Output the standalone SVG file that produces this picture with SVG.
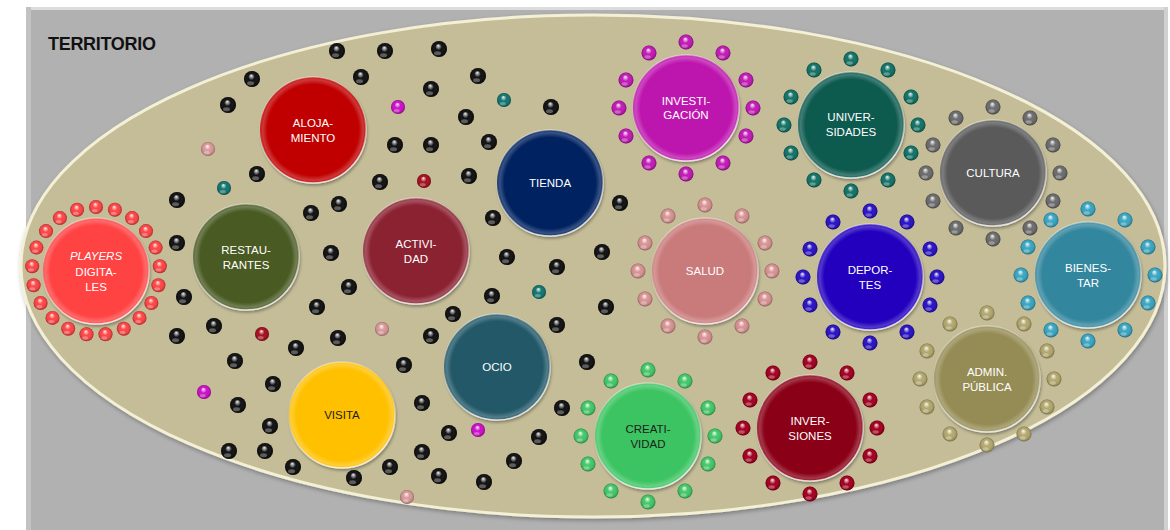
<svg xmlns="http://www.w3.org/2000/svg" xmlns:xlink="http://www.w3.org/1999/xlink" width="1170" height="530" viewBox="0 0 1170 530">
<defs>
<style>
.lbl{font-family:"Liberation Sans",Arial,sans-serif;font-size:11.5px;fill:#ffffff;text-anchor:middle}
.lbl.dk{fill:#1c1c1c}
.title{font-family:"Liberation Sans",Arial,sans-serif;font-size:18px;font-weight:bold;fill:#111}
.big{stroke:url(#rimStroke);stroke-width:1.6;filter:url(#sh)}
</style>
<radialGradient id="gloss" cx="0.5" cy="0.5" r="0.5" fx="0.45" fy="0.28">
<stop offset="0" stop-color="#fff" stop-opacity="0.95"/>
<stop offset="0.18" stop-color="#fff" stop-opacity="0.55"/>
<stop offset="0.42" stop-color="#fff" stop-opacity="0"/>
<stop offset="0.85" stop-color="#000" stop-opacity="0.12"/>
<stop offset="1" stop-color="#000" stop-opacity="0.35"/>
</radialGradient>
<radialGradient id="bigOv" cx="0.5" cy="0.5" r="0.5">
<stop offset="0" stop-color="#fff" stop-opacity="0"/>
<stop offset="0.86" stop-color="#fff" stop-opacity="0"/>
<stop offset="0.95" stop-color="#fff" stop-opacity="0.22"/>
<stop offset="1" stop-color="#fff" stop-opacity="0.08"/>
</radialGradient>
<linearGradient id="rimStroke" x1="0" y1="0" x2="0.3" y2="1">
<stop offset="0" stop-color="#fff" stop-opacity="0.55"/>
<stop offset="0.45" stop-color="#fff" stop-opacity="0.05"/>
<stop offset="1" stop-color="#fff" stop-opacity="0.75"/>
</linearGradient>
<filter id="sh" x="-20%" y="-20%" width="140%" height="140%">
<feDropShadow dx="1" dy="2" stdDeviation="1.5" flood-color="#000" flood-opacity="0.35"/>
</filter>
<filter id="esh" x="-5%" y="-5%" width="110%" height="110%">
<feDropShadow dx="1" dy="2" stdDeviation="2" flood-color="#000" flood-opacity="0.3"/>
</filter>
<g id="dot"><circle r="8" fill="currentColor"/><circle r="8" fill="url(#gloss)"/><ellipse cx="-1.5" cy="4.2" rx="3.5" ry="2" fill="#fff" fill-opacity="0.3"/></g>
<g id="sdot"><circle r="7" fill="currentColor"/><circle r="7" fill="url(#gloss)"/><ellipse cx="-1.3" cy="3.7" rx="3" ry="1.7" fill="#fff" fill-opacity="0.3"/></g>
<g id="rdot"><circle r="7.5" fill="currentColor"/><circle r="7.5" fill="url(#gloss)"/><ellipse cx="-1.4" cy="4" rx="3.2" ry="1.8" fill="#fff" fill-opacity="0.3"/></g>
<g id="ring">
<use href="#rdot" x="0" y="-66"/><use href="#rdot" x="37" y="-55"/><use href="#rdot" x="60" y="-28"/><use href="#rdot" x="67" y="0"/>
<use href="#rdot" x="60" y="28"/><use href="#rdot" x="37" y="55"/><use href="#rdot" x="0" y="66"/><use href="#rdot" x="-37" y="55"/>
<use href="#rdot" x="-60" y="28"/><use href="#rdot" x="-67" y="0"/><use href="#rdot" x="-60" y="-28"/><use href="#rdot" x="-37" y="-55"/>
</g>
</defs>

<rect x="0" y="0" width="1170" height="530" fill="#ffffff"/>
<g id="background">
<rect x="26" y="7" width="1142" height="530" fill="#B1B1B1"/>
<rect x="26" y="7" width="1142" height="3" fill="#DCDCDC"/>
<rect x="26" y="7" width="5" height="523" fill="#C2C2C2"/>
<rect x="1164" y="7" width="4" height="523" fill="#D0D0D0"/>
<ellipse cx="593" cy="266" rx="572" ry="251" fill="#C4BD98" stroke="#F3F0D6" stroke-width="3" filter="url(#esh)"/>
<text class="title" x="48" y="50" textLength="108">TERRITORIO</text>
</g>

<g id="dots">
<g color="#111111">
<use href="#dot" x="337" y="51"/><use href="#dot" x="385" y="51"/><use href="#dot" x="439" y="49"/>
<use href="#dot" x="252" y="79"/><use href="#dot" x="361" y="77"/><use href="#dot" x="478" y="76"/>
<use href="#dot" x="228" y="105"/><use href="#dot" x="431" y="89"/><use href="#dot" x="466" y="117"/>
<use href="#dot" x="551" y="107"/><use href="#dot" x="395" y="145"/><use href="#dot" x="431" y="145"/>
<use href="#dot" x="489" y="142"/><use href="#dot" x="257" y="174"/><use href="#dot" x="380" y="182"/>
<use href="#dot" x="469" y="176"/><use href="#dot" x="177" y="200"/><use href="#dot" x="339" y="204"/>
<use href="#dot" x="311" y="213"/><use href="#dot" x="493" y="218"/><use href="#dot" x="620" y="203"/>
<use href="#dot" x="177" y="243"/><use href="#dot" x="331" y="253"/><use href="#dot" x="507" y="257"/>
<use href="#dot" x="602" y="252"/><use href="#dot" x="557" y="267"/><use href="#dot" x="349" y="287"/>
<use href="#dot" x="184" y="297"/><use href="#dot" x="317" y="307"/><use href="#dot" x="492" y="296"/>
<use href="#dot" x="453" y="314"/><use href="#dot" x="606" y="307"/><use href="#dot" x="214" y="326"/>
<use href="#dot" x="177" y="336"/><use href="#dot" x="296" y="348"/><use href="#dot" x="338" y="338"/>
<use href="#dot" x="431" y="336"/><use href="#dot" x="557" y="325"/><use href="#dot" x="235" y="361"/>
<use href="#dot" x="273" y="384"/><use href="#dot" x="404" y="365"/><use href="#dot" x="587" y="362"/>
<use href="#dot" x="238" y="405"/><use href="#dot" x="422" y="403"/><use href="#dot" x="562" y="408"/>
<use href="#dot" x="270" y="426"/><use href="#dot" x="449" y="433"/><use href="#dot" x="539" y="437"/>
<use href="#dot" x="229" y="451"/><use href="#dot" x="265" y="451"/><use href="#dot" x="422" y="452"/>
<use href="#dot" x="293" y="467"/><use href="#dot" x="390" y="467"/><use href="#dot" x="514" y="461"/>
<use href="#dot" x="354" y="478"/><use href="#dot" x="439" y="476"/><use href="#dot" x="484" y="482"/>
</g>
<g color="#D99999">
<use href="#sdot" x="208" y="149"/><use href="#sdot" x="382" y="329"/><use href="#sdot" x="407" y="497"/>
</g>
<g color="#137570">
<use href="#sdot" x="224" y="188"/><use href="#sdot" x="504" y="100"/><use href="#sdot" x="539" y="292"/>
</g>
<g color="#CC10C8">
<use href="#sdot" x="398" y="107"/><use href="#sdot" x="204" y="392"/><use href="#sdot" x="478" y="430"/>
</g>
<g color="#A5101E">
<use href="#sdot" x="424" y="181"/><use href="#sdot" x="262" y="334"/>
</g>
</g>

<g id="n-players" color="#FF4545">
<use href="#sdot" x="96" y="207"/><use href="#sdot" x="114.9" y="209.8"/><use href="#sdot" x="132.1" y="218.1"/>
<use href="#sdot" x="146" y="231.1"/><use href="#sdot" x="155.6" y="247.6"/><use href="#sdot" x="159.8" y="266.2"/>
<use href="#sdot" x="158.4" y="285.2"/><use href="#sdot" x="151.4" y="303"/><use href="#sdot" x="139.5" y="317.9"/>
<use href="#sdot" x="123.8" y="328.7"/><use href="#sdot" x="105.5" y="334.3"/><use href="#sdot" x="86.5" y="334.3"/>
<use href="#sdot" x="68.2" y="328.7"/><use href="#sdot" x="52.5" y="317.9"/><use href="#sdot" x="40.6" y="303"/>
<use href="#sdot" x="33.6" y="285.2"/><use href="#sdot" x="32.2" y="266.2"/><use href="#sdot" x="36.4" y="247.6"/>
<use href="#sdot" x="46" y="231.1"/><use href="#sdot" x="59.9" y="218.1"/><use href="#sdot" x="77.1" y="209.8"/>
<circle class="big" cx="96" cy="271" r="53" fill="#FF4343"/><circle cx="96" cy="271" r="53" fill="url(#bigOv)"/>
<text class="lbl" x="96" y="260" font-style="italic">PLAYERS</text>
<text class="lbl" x="96" y="276">DIGITA-</text>
<text class="lbl" x="96" y="291">LES</text>
</g>

<g id="n-alojamiento">
<circle class="big" cx="313" cy="130" r="53" fill="#C00000"/><circle cx="313" cy="130" r="53" fill="url(#bigOv)"/>
<text class="lbl" x="313" y="127">ALOJA-</text><text class="lbl" x="313" y="142">MIENTO</text>
</g>
<g id="n-restaurantes">
<circle class="big" cx="246" cy="257" r="53" fill="#4A5A24"/><circle cx="246" cy="257" r="53" fill="url(#bigOv)"/>
<text class="lbl" x="246" y="254">RESTAU-</text><text class="lbl" x="246" y="269">RANTES</text>
</g>
<g id="n-actividad">
<circle class="big" cx="416" cy="251" r="53" fill="#8B2331"/><circle cx="416" cy="251" r="53" fill="url(#bigOv)"/>
<text class="lbl" x="416" y="248">ACTIVI-</text><text class="lbl" x="416" y="263">DAD</text>
</g>
<g id="n-tienda">
<circle class="big" cx="550" cy="183" r="53" fill="#002060"/><circle cx="550" cy="183" r="53" fill="url(#bigOv)"/>
<text class="lbl" x="550" y="187">TIENDA</text>
</g>
<g id="n-ocio">
<circle class="big" cx="497" cy="367" r="53" fill="#215868"/><circle cx="497" cy="367" r="53" fill="url(#bigOv)"/>
<text class="lbl" x="497" y="371">OCIO</text>
</g>
<g id="n-visita">
<circle class="big" cx="342" cy="415" r="53" fill="#FFC000"/><circle cx="342" cy="415" r="53" fill="url(#bigOv)"/>
<text class="lbl dk" x="342" y="419">VISITA</text>
</g>

<g id="n-investigacion" color="#C21AB6">
<use href="#ring" x="686" y="108"/>
<circle class="big" cx="686" cy="108" r="53" fill="#BD12AE"/><circle cx="686" cy="108" r="53" fill="url(#bigOv)"/>
<text class="lbl" x="686" y="105">INVESTI-</text><text class="lbl" x="686" y="119">GACIÓN</text>
</g>
<g id="n-universidades" color="#137266">
<use href="#ring" x="851" y="125"/>
<circle class="big" cx="851" cy="125" r="53" fill="#0D5A50"/><circle cx="851" cy="125" r="53" fill="url(#bigOv)"/>
<text class="lbl" x="851" y="121">UNIVER-</text><text class="lbl" x="851" y="136">SIDADES</text>
</g>
<g id="n-cultura" color="#6C6C6C">
<use href="#ring" x="993" y="173"/>
<circle class="big" cx="993" cy="173" r="53" fill="#5A5A5A"/><circle cx="993" cy="173" r="53" fill="url(#bigOv)"/>
<text class="lbl" x="993" y="177">CULTURA</text>
</g>
<g id="n-salud" color="#D99393">
<use href="#ring" x="705" y="271"/>
<circle class="big" cx="705" cy="271" r="53" fill="#C97A7A"/><circle cx="705" cy="271" r="53" fill="url(#bigOv)"/>
<text class="lbl" x="705" y="275">SALUD</text>
</g>
<g id="n-deportes" color="#2A12C4">
<use href="#ring" x="870" y="277"/>
<circle class="big" cx="870" cy="277" r="53" fill="#2300BE"/><circle cx="870" cy="277" r="53" fill="url(#bigOv)"/>
<text class="lbl" x="870" y="274">DEPOR-</text><text class="lbl" x="870" y="289">TES</text>
</g>
<g id="n-bienestar" color="#3AA6C2">
<use href="#ring" x="1088" y="275"/>
<circle class="big" cx="1088" cy="275" r="53" fill="#31869D"/><circle cx="1088" cy="275" r="53" fill="url(#bigOv)"/>
<text class="lbl" x="1088" y="272">BIENES-</text><text class="lbl" x="1088" y="287">TAR</text>
</g>
<g id="n-admin" color="#B3A86E">
<use href="#ring" x="987" y="379"/>
<circle class="big" cx="987" cy="379" r="53" fill="#958C55"/><circle cx="987" cy="379" r="53" fill="url(#bigOv)"/>
<text class="lbl" x="987" y="376">ADMIN.</text><text class="lbl" x="987" y="391">PÚBLICA</text>
</g>
<g id="n-inversiones" color="#A3001F">
<use href="#ring" x="810" y="428"/>
<circle class="big" cx="810" cy="428" r="53" fill="#8A0019"/><circle cx="810" cy="428" r="53" fill="url(#bigOv)"/>
<text class="lbl" x="810" y="425">INVER-</text><text class="lbl" x="810" y="440">SIONES</text>
</g>
<g id="n-creatividad" color="#44C868">
<use href="#ring" x="648" y="436"/>
<circle class="big" cx="648" cy="436" r="53" fill="#3CC462"/><circle cx="648" cy="436" r="53" fill="url(#bigOv)"/>
<text class="lbl dk" x="648" y="433">CREATI-</text><text class="lbl dk" x="648" y="448">VIDAD</text>
</g>
</svg>
